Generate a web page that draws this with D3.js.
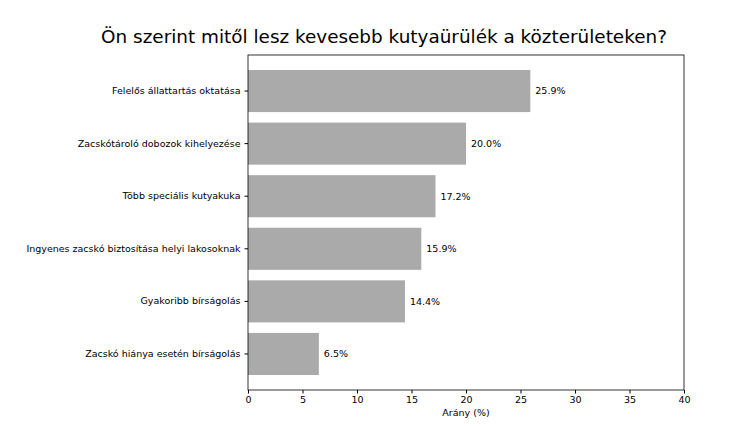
<!DOCTYPE html>
<html><head><meta charset="utf-8">
<script src="https://cdn.jsdelivr.net/npm/d3@7"></script>
<style>body{margin:0;background:#fff}text{font-family:"DejaVu Sans",sans-serif}</style>
</head><body><svg id="c" width="746" height="431"></svg>
<script>
const categories=["Felelős állattartás oktatása","Zacskótároló dobozok kihelyezése","Több speciális kutyakuka","Ingyenes zacskó biztosítása helyi lakosoknak","Gyakoribb bírságolás","Zacskó hiánya esetén bírságolás"];
const values=[25.9,20.0,17.2,15.9,14.4,6.5];
const xTicks=[0,5,10,15,20,25,30,35,40];
const svg=d3.select("#c");
const L=248,R=684,T=55,B=390;
const x=d3.scaleLinear().domain([0,40]).range([L,R]);
const y=d3.scaleBand().domain(categories).range([70,375]).paddingInner(0.2).paddingOuter(0);
svg.append("text").attr("x",384).attr("y",43).attr("text-anchor","middle").attr("font-size",18.4).text("Ön szerint mitől lesz kevesebb kutyaürülék a közterületeken?");
svg.selectAll("rect.b").data(values).join("rect").attr("x",x(0)).attr("y",(d,i)=>y(categories[i])).attr("width",d=>x(d)-x(0)).attr("height",y.bandwidth()).attr("fill","#aaaaaa");
svg.selectAll("text.v").data(values).join("text").attr("x",d=>x(d)+5).attr("y",(d,i)=>y(categories[i])+y.bandwidth()/2).attr("dy","0.35em").attr("font-size",9.5).text(d=>d.toFixed(1)+"%");
svg.append("rect").attr("x",L).attr("y",T).attr("width",R-L).attr("height",B-T).attr("fill","none").attr("stroke","#000").attr("stroke-width",0.8);
const xa=svg.append("g").attr("transform",`translate(0,${B})`).call(d3.axisBottom(x).tickValues(xTicks).tickSize(3.5).tickPadding(3));
const ya=svg.append("g").attr("transform",`translate(${L},0)`).call(d3.axisLeft(y).tickSize(3.5).tickPadding(4));
[xa,ya].forEach(a=>{a.select(".domain").remove();a.selectAll("text").attr("font-size",9.5).attr("font-family","DejaVu Sans").attr("fill","#000");});
svg.append("text").attr("x",(L+R)/2).attr("y",416).attr("text-anchor","middle").attr("font-size",9.5).text("Arány (%)");
</script></body></html>
